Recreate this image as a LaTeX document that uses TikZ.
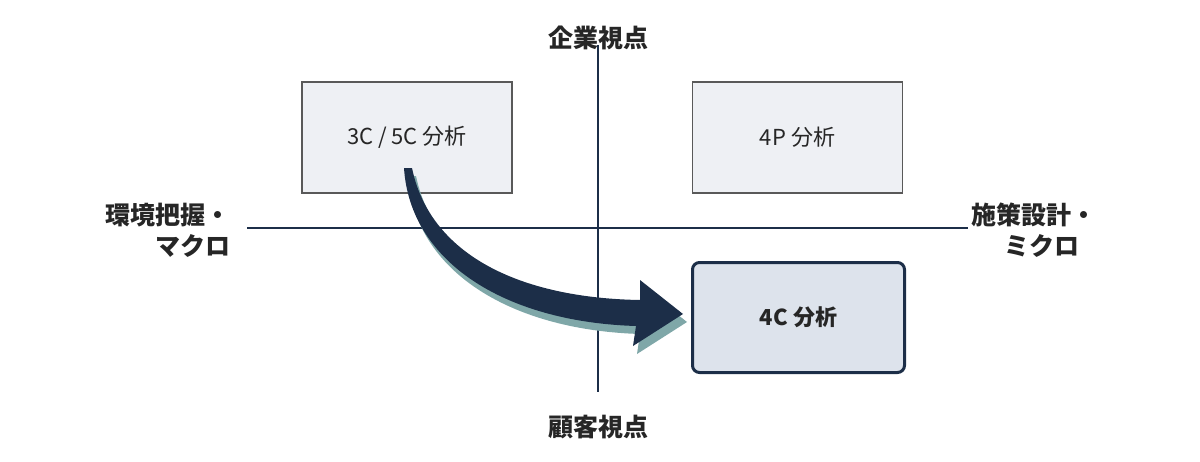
\documentclass[tikz,border=0pt]{standalone}
\usepackage{fontspec}
\setmainfont{Noto Sans CJK JP}
\definecolor{navy}{HTML}{1C2E48}
\definecolor{shad}{HTML}{7FA7A8}
\definecolor{boxf}{HTML}{EEF0F4}
\definecolor{boxg}{HTML}{DDE3EC}
\begin{document}
\begin{tikzpicture}[x=1pt,y=-1pt,
  ax/.style={line width=1.6pt,draw=navy},
  box/.style={draw=black!65,line width=1.2pt,fill=boxf,minimum width=210pt,minimum height=111pt,font=\fontsize{22}{26}\selectfont,text=black!85},
  lab/.style={font=\bfseries\fontsize{25}{31}\selectfont,text=black!85}]
\useasboundingbox (0,0) rectangle (1200,461);
\coordinate (vt) at (598,45); \coordinate (vb) at (598,392);
\coordinate (hl) at (247,228); \coordinate (hr) at (968,228);
\draw[ax] (vt) -- (vb);
\draw[ax] (hl) -- (hr);
\node[box] (c3) at (407,137.5) {3C / 5C 分析};
\node[box] (p4) at (797.5,137.5) {4P 分析};
\node[box,draw=navy,line width=3pt,rounded corners=7pt,fill=boxg,minimum width=212pt,minimum height=110pt,font=\bfseries\fontsize{22}{26}\selectfont] (c4) at (798.5,317.5) {4C 分析};
\node[lab] (t) at (598,38) {企業視点};
\node[lab] (b) at (598,427) {顧客視点};
\node[lab,align=right,anchor=east] (l) at (234,230) {環境把握・\\マクロ};
\node[lab,align=right,anchor=west] (r) at (968,230) {施策設計・\\ミクロ\hspace*{0.7em}};
\def\arr{(404,168) -- (412,168) .. controls (430,255) and (520,298) .. (640,300) -- (640,280) -- (683,314) -- (633,346) -- (636,326) .. controls (505,322) and (410,262) .. (404,168) -- cycle}
\fill[fill=shad] [shift={(4,8)}] \arr;
\fill[fill=navy] \arr;
\end{tikzpicture}
\end{document}
